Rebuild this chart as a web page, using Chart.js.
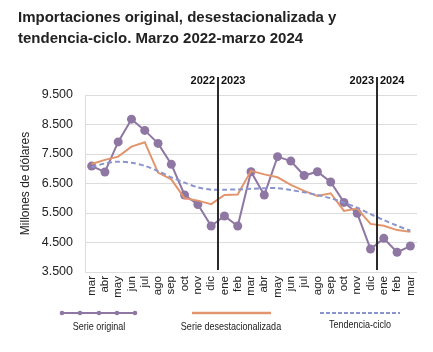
<!DOCTYPE html>
<html lang="es">
<head>
<meta charset="utf-8">
<title>Importaciones original, desestacionalizada y tendencia-ciclo</title>
<script src="https://cdn.jsdelivr.net/npm/chart.js@4.4.1/dist/chart.umd.min.js"></script>
<style>
  html, body { margin: 0; padding: 0; background: #fff; }
  canvas { display: block; }
</style>
</head>
<body>
<canvas id="chart" width="433" height="352"></canvas>
<script>
/* ------------------------------------------------------------
   DATA (millones de dólares, marzo 2022 - marzo 2024)
------------------------------------------------------------ */
const months = ["mar", "abr", "may", "jun", "jul", "ago", "sep", "oct", "nov", "dic",
                "ene", "feb", "mar", "abr", "may", "jun", "jul", "ago", "sep", "oct", "nov", "dic",
                "ene", "feb", "mar"];

const serieOriginal = [7090, 6890, 7910, 8680, 8300, 7860, 7150, 6110, 5790, 5060,
                       5400, 5060, 6900, 6110, 7410, 7260, 6770, 6900, 6550, 5860, 5490, 4280,
                       4640, 4170, 4380];

const serieDesest = [7160, 7300, 7410, 7750, 7900, 6870, 6640, 6000, 5920, 5800,
                     6110, 6130, 6930, 6810, 6710, 6450, 6250, 6080, 6170, 5570, 5650, 5130,
                     5070, 4920, 4860];

const tendenciaCiclo = [7050, 7180, 7240, 7200, 7100, 6920, 6710, 6530, 6370, 6290,
                        6290, 6300, 6320, 6340, 6340, 6280, 6200, 6110, 6000, 5850, 5680, 5460,
                        5260, 5070, 4900];

const yTicks = [3500, 4500, 5500, 6500, 7500, 8500, 9500];
const yearBreaks = [["2022", "2023", 9], ["2023", "2024", 21]];
const titleLines = ["Importaciones original, desestacionalizada y",
                    "tendencia-ciclo. Marzo 2022-marzo 2024"];
const legendItems = ["Serie original", "Serie desestacionalizada", "Tendencia-ciclo"];

/* ------------------------------------------------------------
   STYLE
------------------------------------------------------------ */
const COLORS = {
    original: "#8f77a3",
    desest: "#e2956c",
    tendencia: "#8b95cd",
    grid: "#dcdcdc",
    text: "#222222"
};
const FONT = "'Liberation Sans', Arial, sans-serif";

function fmtMiles(v) {
    return String(v).replace(/\B(?=(\d{3})+(?!\d))/g, ".");
}

/* ------------------------------------------------------------
   PLUGINS: title, year separators, legend
------------------------------------------------------------ */
const titlePlugin = {
    id: "titleText",
    afterDraw(chart) {
        const ctx = chart.ctx;
        ctx.save();
        ctx.fillStyle = COLORS.text;
        ctx.font = "bold 15px " + FONT;
        ctx.textBaseline = "alphabetic";
        ctx.textAlign = "left";
        titleLines.forEach((t, i) => ctx.fillText(t, 18, 22 + i * 21));
        ctx.restore();
    }
};

const yearPlugin = {
    id: "yearBreaks",
    afterDatasetsDraw(chart) {
        const ctx = chart.ctx;
        const xs = chart.scales.x;
        ctx.save();
        yearBreaks.forEach(([a, b, i]) => {
            const x = Math.round((xs.getPixelForValue(i) + xs.getPixelForValue(i + 1)) / 2);
            ctx.strokeStyle = "#2b2b2b";
            ctx.lineWidth = 2;
            ctx.beginPath();
            ctx.moveTo(x, 77);
            ctx.lineTo(x, chart.chartArea.bottom - 2);
            ctx.stroke();
            ctx.fillStyle = "#111";
            ctx.font = "bold 11px " + FONT;
            ctx.textBaseline = "alphabetic";
            ctx.textAlign = "right";
            ctx.fillText(a, x - 3, 84);
            ctx.textAlign = "left";
            ctx.fillText(b, x + 3, 84);
        });
        ctx.restore();
    }
};

// narrow text: no condensed face installed, so squeeze horizontally
function narrowText(ctx, text, cx, cy) {
    ctx.save();
    ctx.translate(cx, cy);
    ctx.scale(0.82, 1);
    ctx.fillText(text, 0, 0);
    ctx.restore();
}

const legendPlugin = {
    id: "bottomLegend",
    afterDraw(chart) {
        const ctx = chart.ctx;
        const y = 313;
        ctx.save();
        // Serie original
        ctx.strokeStyle = COLORS.original;
        ctx.fillStyle = COLORS.original;
        ctx.lineWidth = 2;
        ctx.beginPath(); ctx.moveTo(62, y); ctx.lineTo(135, y); ctx.stroke();
        [62, 80, 99, 117, 135].forEach(px => {
            ctx.beginPath(); ctx.arc(px, y, 2.3, 0, Math.PI * 2); ctx.fill();
        });
        // Serie desestacionalizada
        ctx.strokeStyle = COLORS.desest;
        ctx.lineWidth = 2.5;
        ctx.beginPath(); ctx.moveTo(192, y); ctx.lineTo(271, y); ctx.stroke();
        // Tendencia-ciclo
        ctx.strokeStyle = COLORS.tendencia;
        ctx.lineWidth = 2;
        ctx.setLineDash([4, 2]);
        ctx.beginPath(); ctx.moveTo(320, y); ctx.lineTo(400, y); ctx.stroke();
        ctx.setLineDash([]);
        // textos
        ctx.fillStyle = COLORS.text;
        ctx.font = "11px " + FONT;
        ctx.textAlign = "center";
        ctx.textBaseline = "middle";
        narrowText(ctx, legendItems[0], 99, 327);
        narrowText(ctx, legendItems[1], 231, 327);
        narrowText(ctx, legendItems[2], 360, 325);
        ctx.restore();
    }
};

/* ------------------------------------------------------------
   CHART
------------------------------------------------------------ */
new Chart(document.getElementById("chart"), {
    type: "line",
    data: {
        labels: months,
        datasets: [
            {
                label: legendItems[2],
                data: tendenciaCiclo,
                borderColor: COLORS.tendencia,
                borderWidth: 2,
                borderDash: [5, 3],
                pointRadius: 0,
                tension: 0.3
            },
            {
                label: legendItems[1],
                data: serieDesest,
                borderColor: COLORS.desest,
                borderWidth: 2,
                pointRadius: 0,
                tension: 0
            },
            {
                label: legendItems[0],
                data: serieOriginal,
                borderColor: COLORS.original,
                backgroundColor: COLORS.original,
                borderWidth: 2,
                pointRadius: 4.5,
                pointBorderWidth: 0,
                tension: 0
            }
        ]
    },
    options: {
        responsive: false,
        animation: false,
        layout: { padding: { top: 95, right: 16, bottom: 30, left: 0 } },
        plugins: {
            legend: { display: false },
            tooltip: { enabled: false }
        },
        scales: {
            x: {
                offset: true,
                grid: { display: false, drawTicks: false },
                border: { display: false },
                ticks: {
                    autoSkip: false,
                    maxRotation: 90,
                    minRotation: 90,
                    padding: 4,
                    color: COLORS.text,
                    font: { family: FONT, size: 11.5 }
                },
                afterFit(scale) { scale.height = 50; }
            },
            y: {
                min: 3500,
                max: 9500,
                afterBuildTicks(scale) { scale.ticks = yTicks.map(v => ({ value: v })); },
                grid: { color: COLORS.grid, drawTicks: false, lineWidth: 1 },
                border: { color: COLORS.grid },
                ticks: {
                    padding: 12,
                    color: COLORS.text,
                    font: { family: FONT, size: 12.5 },
                    callback: v => fmtMiles(v)
                },
                title: {
                    display: true,
                    text: "Millones de dólares",
                    color: COLORS.text,
                    font: { family: FONT, size: 12 },
                    padding: { top: 18, bottom: 0 }
                },
                afterFit(scale) { scale.width = 85; }
            }
        }
    },
    plugins: [titlePlugin, yearPlugin, legendPlugin]
});
</script>
</body>
</html>
